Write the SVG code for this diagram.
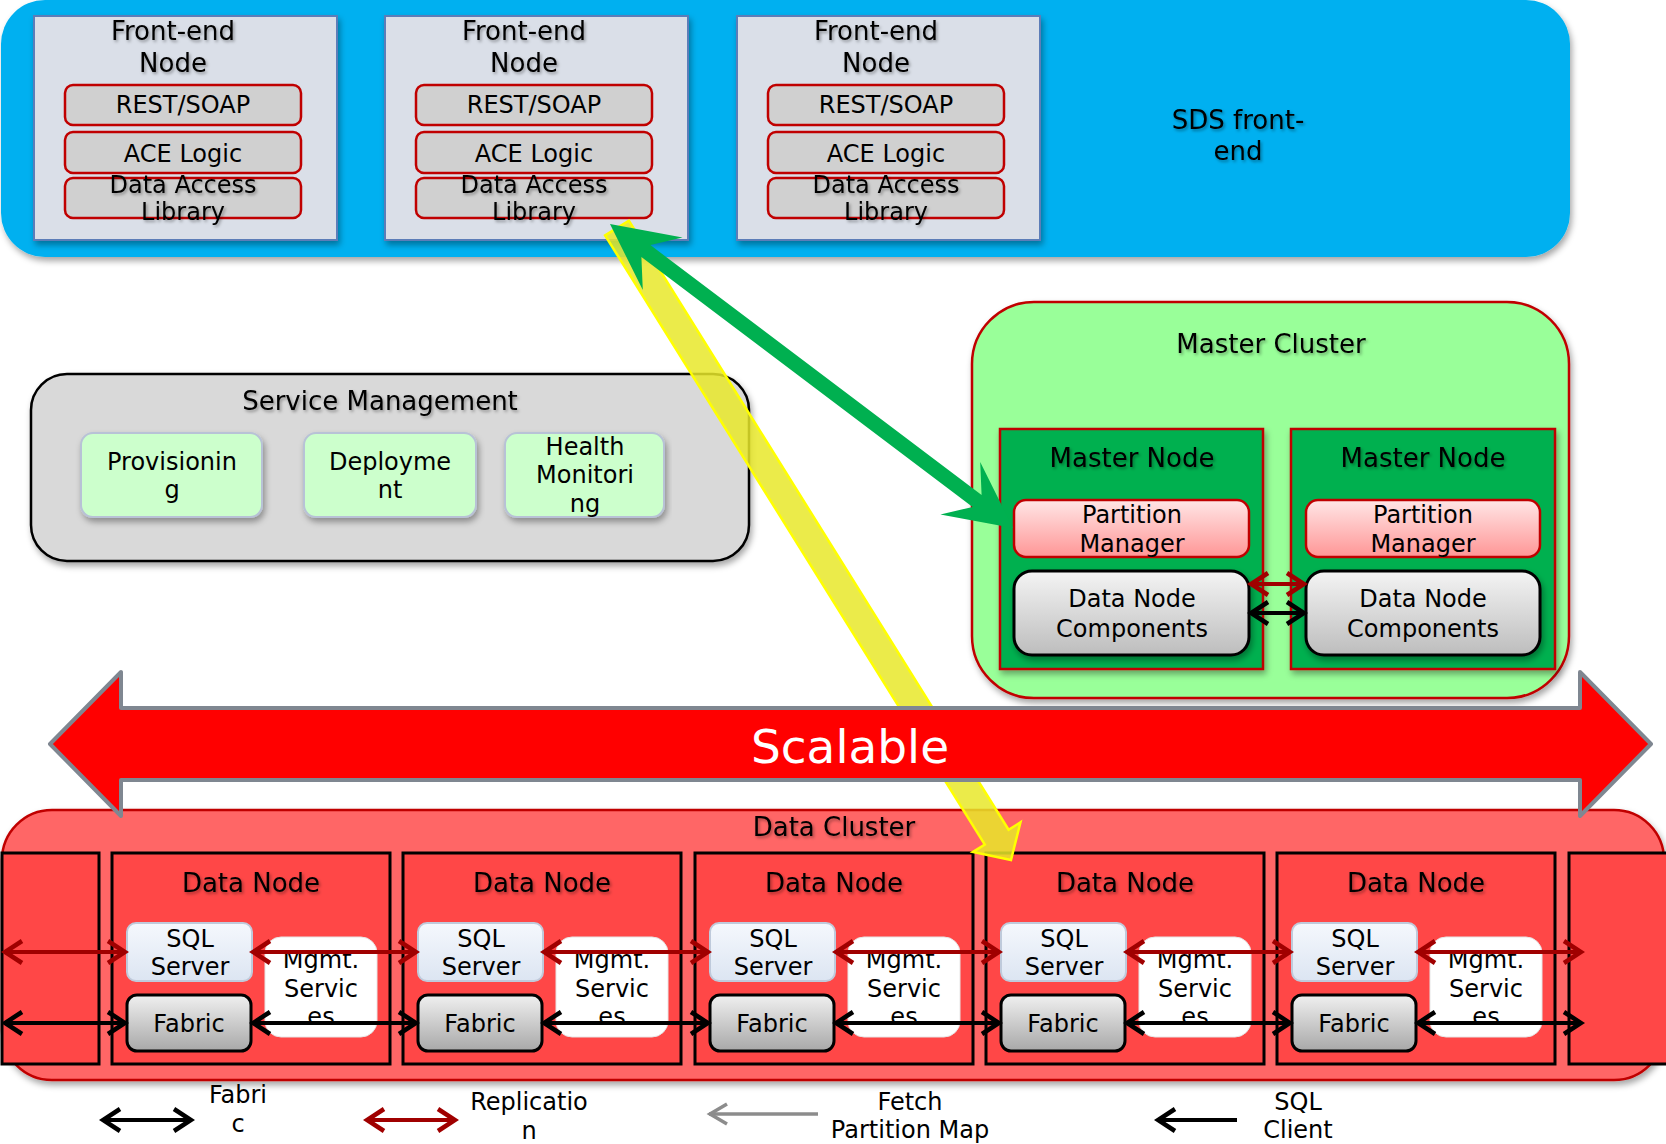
<svg xmlns="http://www.w3.org/2000/svg" width="1666" height="1144" viewBox="0 0 1666 1144">
<defs>
<filter id="bs" x="-5%" y="-5%" width="110%" height="120%"><feDropShadow dx="2" dy="4" stdDeviation="3" flood-color="#000" flood-opacity="0.35"/></filter>
<filter id="ts" x="-10%" y="-30%" width="120%" height="170%"><feDropShadow dx="1.5" dy="2" stdDeviation="1.6" flood-color="#000" flood-opacity="0.35"/></filter>
<linearGradient id="gPM" x1="0" y1="0" x2="0" y2="1"><stop offset="0" stop-color="#FFE6E6"/><stop offset="1" stop-color="#FF9696"/></linearGradient>
<linearGradient id="gDNC" x1="0" y1="0" x2="0" y2="1"><stop offset="0" stop-color="#F4F4F4"/><stop offset="1" stop-color="#BDBDBD"/></linearGradient>
<linearGradient id="gFab" x1="0" y1="0" x2="0" y2="1"><stop offset="0" stop-color="#F0F0F0"/><stop offset="1" stop-color="#A8A8A8"/></linearGradient>
<linearGradient id="gSQL" x1="0" y1="0" x2="0" y2="1"><stop offset="0" stop-color="#F5F8FD"/><stop offset="1" stop-color="#DCE5F2"/></linearGradient>
<marker id="mR" viewBox="0 0 24 28" refX="21" refY="14" markerWidth="24" markerHeight="28" markerUnits="userSpaceOnUse" orient="auto-start-reverse"><path d="M3,3 L20,14 L3,25" fill="none" stroke="#A00000" stroke-width="4.5"/></marker>
<marker id="mK" viewBox="0 0 24 28" refX="21" refY="14" markerWidth="24" markerHeight="28" markerUnits="userSpaceOnUse" orient="auto-start-reverse"><path d="M3,3 L20,14 L3,25" fill="none" stroke="#000" stroke-width="4.5"/></marker>
<marker id="mG" viewBox="0 0 24 28" refX="21" refY="14" markerWidth="24" markerHeight="28" markerUnits="userSpaceOnUse" orient="auto-start-reverse"><path d="M3,4 L20,14 L3,24" fill="none" stroke="#8C8C8C" stroke-width="3.5"/></marker>
</defs>
<style>
text{font-family:"DejaVu Sans",Verdana,sans-serif;fill:#000;text-anchor:middle}
.f26{font-size:26px}
.f24{font-size:24px}
.sh{filter:url(#ts)}
.fe{fill:#DADFE8;stroke:#5B7DB8;stroke-width:2}
.sub{fill:#D0D0D0;stroke:#C00000;stroke-width:2.5}
.svc{fill:#CCFFCC;stroke:#B8C2D6;stroke-width:2}
.mn{fill:#00B050;stroke:#C00000;stroke-width:2.5}
.pm{fill:url(#gPM);stroke:#C00000;stroke-width:2.5}
.dnc{fill:url(#gDNC);stroke:#000;stroke-width:3}
.dn{fill:#FF4747;stroke:#000;stroke-width:3}
.sql{fill:url(#gSQL);stroke:#BFCADB;stroke-width:2}
.fab{fill:url(#gFab);stroke:#000;stroke-width:3}
.mg{fill:#FFFFFF;stroke:#E6E6E6;stroke-width:1}
.lr{fill:none;stroke:#A00000;stroke-width:4;marker-start:url(#mR);marker-end:url(#mR)}
.lk{fill:none;stroke:#000;stroke-width:4;marker-start:url(#mK);marker-end:url(#mK)}
</style>

<g id="sds-frontend">
<rect x="1" y="0" width="1569" height="257" rx="44" fill="#00B0F0" filter="url(#bs)"/>
<text class="f26 sh" x="1238" y="129">SDS front-</text>
<text class="f26 sh" x="1238" y="160">end</text>
</g>

<g id="fe1" transform="translate(34,16)">
<rect class="fe" x="0" y="0" width="303" height="224" filter="url(#bs)"/>
<text class="f26 sh" x="139" y="24">Front-end</text>
<text class="f26 sh" x="139" y="56">Node</text>
<rect class="sub" x="31" y="69" width="236" height="40" rx="8"/>
<rect class="sub" x="31" y="116" width="236" height="41" rx="8"/>
<rect class="sub" x="31" y="162" width="236" height="40" rx="8"/>
<text class="f24" x="149" y="97">REST/SOAP</text>
<text class="f24" x="149" y="146">ACE Logic</text>
<text class="f24 sh" x="149" y="177">Data Access</text>
<text class="f24 sh" x="149" y="204">Library</text>
</g>
<g id="fe2" transform="translate(385,16)">
<rect class="fe" x="0" y="0" width="303" height="224" filter="url(#bs)"/>
<text class="f26 sh" x="139" y="24">Front-end</text>
<text class="f26 sh" x="139" y="56">Node</text>
<rect class="sub" x="31" y="69" width="236" height="40" rx="8"/>
<rect class="sub" x="31" y="116" width="236" height="41" rx="8"/>
<rect class="sub" x="31" y="162" width="236" height="40" rx="8"/>
<text class="f24" x="149" y="97">REST/SOAP</text>
<text class="f24" x="149" y="146">ACE Logic</text>
<text class="f24 sh" x="149" y="177">Data Access</text>
<text class="f24 sh" x="149" y="204">Library</text>
</g>
<g id="fe3" transform="translate(737,16)">
<rect class="fe" x="0" y="0" width="303" height="224" filter="url(#bs)"/>
<text class="f26 sh" x="139" y="24">Front-end</text>
<text class="f26 sh" x="139" y="56">Node</text>
<rect class="sub" x="31" y="69" width="236" height="40" rx="8"/>
<rect class="sub" x="31" y="116" width="236" height="41" rx="8"/>
<rect class="sub" x="31" y="162" width="236" height="40" rx="8"/>
<text class="f24" x="149" y="97">REST/SOAP</text>
<text class="f24" x="149" y="146">ACE Logic</text>
<text class="f24 sh" x="149" y="177">Data Access</text>
<text class="f24 sh" x="149" y="204">Library</text>
</g>

<g id="service-management">
<rect x="31" y="374" width="718" height="187" rx="36" fill="#D9D9D9" stroke="#000" stroke-width="2.5" filter="url(#bs)"/>
<text class="f26 sh" x="380" y="410">Service Management</text>
<g id="provisioning">
<rect class="svc" x="81" y="433" width="181" height="84" rx="12" filter="url(#bs)"/>
<text class="f24" x="172" y="470">Provisionin</text>
<text class="f24" x="172" y="498">g</text>
</g>
<g id="deployment">
<rect class="svc" x="304" y="433" width="172" height="84" rx="12" filter="url(#bs)"/>
<text class="f24" x="390" y="470">Deployme</text>
<text class="f24" x="390" y="498">nt</text>
</g>
<g id="health-monitoring">
<rect class="svc" x="505" y="433" width="159" height="84" rx="12" filter="url(#bs)"/>
<text class="f24" x="585" y="455">Health</text>
<text class="f24" x="585" y="483">Monitori</text>
<text class="f24" x="585" y="512">ng</text>
</g>
</g>

<g id="master-cluster">
<rect x="972" y="302" width="597" height="396" rx="62" fill="#99FF99" stroke="#C00000" stroke-width="2.5" filter="url(#bs)"/>
<text class="f26 sh" x="1271" y="353">Master Cluster</text>
<g id="master-node-1">
<rect class="mn" x="1000" y="429" width="263" height="240" filter="url(#bs)"/>
<text class="f26 sh" x="1132" y="467">Master Node</text>
<rect class="pm" x="1014" y="500" width="235" height="57" rx="12"/>
<text class="f24" x="1132" y="523">Partition</text>
<text class="f24" x="1132" y="552">Manager</text>
<rect class="dnc" x="1014" y="571" width="235" height="84" rx="18" filter="url(#bs)"/>
<text class="f24" x="1132" y="607">Data Node</text>
<text class="f24" x="1132" y="637">Components</text>
</g>
<g id="master-node-2">
<rect class="mn" x="1291" y="429" width="264" height="240" filter="url(#bs)"/>
<text class="f26 sh" x="1423" y="467">Master Node</text>
<rect class="pm" x="1306" y="500" width="234" height="57" rx="12"/>
<text class="f24" x="1423" y="523">Partition</text>
<text class="f24" x="1423" y="552">Manager</text>
<rect class="dnc" x="1306" y="571" width="234" height="84" rx="18" filter="url(#bs)"/>
<text class="f24" x="1423" y="607">Data Node</text>
<text class="f24" x="1423" y="637">Components</text>
</g>
</g>

<g id="data-cluster">
<rect x="2" y="810" width="1662" height="270" rx="50" fill="#FF6666" stroke="#C00000" stroke-width="2.5" filter="url(#bs)"/>
<text class="f26 sh" x="834" y="836">Data Cluster</text>
<rect id="dn-left-partial" class="dn" x="2" y="853" width="97" height="211"/>
<rect id="dn-right-partial" class="dn" x="1569" y="853" width="110" height="211"/>
</g>

<g id="dn1" transform="translate(112,853)">
<rect class="dn" x="0" y="0" width="278" height="211"/>
<text class="f26 sh" x="139" y="39">Data Node</text>
<rect class="sql" x="15" y="70" width="125" height="58" rx="9"/>
<text class="f24" x="78" y="94">SQL</text><text class="f24" x="78" y="122">Server</text>
<rect class="fab" x="15" y="142" width="124" height="56" rx="10"/>
<text class="f24" x="77" y="179">Fabric</text>
<rect class="mg" x="153" y="84" width="112" height="100" rx="16"/>
<text class="f24" x="209" y="115">Mgmt.</text><text class="f24" x="209" y="144">Servic</text><text class="f24" x="209" y="172">es</text>
</g>
<g id="dn2" transform="translate(403,853)">
<rect class="dn" x="0" y="0" width="278" height="211"/>
<text class="f26 sh" x="139" y="39">Data Node</text>
<rect class="sql" x="15" y="70" width="125" height="58" rx="9"/>
<text class="f24" x="78" y="94">SQL</text><text class="f24" x="78" y="122">Server</text>
<rect class="fab" x="15" y="142" width="124" height="56" rx="10"/>
<text class="f24" x="77" y="179">Fabric</text>
<rect class="mg" x="153" y="84" width="112" height="100" rx="16"/>
<text class="f24" x="209" y="115">Mgmt.</text><text class="f24" x="209" y="144">Servic</text><text class="f24" x="209" y="172">es</text>
</g>
<g id="dn3" transform="translate(695,853)">
<rect class="dn" x="0" y="0" width="278" height="211"/>
<text class="f26 sh" x="139" y="39">Data Node</text>
<rect class="sql" x="15" y="70" width="125" height="58" rx="9"/>
<text class="f24" x="78" y="94">SQL</text><text class="f24" x="78" y="122">Server</text>
<rect class="fab" x="15" y="142" width="124" height="56" rx="10"/>
<text class="f24" x="77" y="179">Fabric</text>
<rect class="mg" x="153" y="84" width="112" height="100" rx="16"/>
<text class="f24" x="209" y="115">Mgmt.</text><text class="f24" x="209" y="144">Servic</text><text class="f24" x="209" y="172">es</text>
</g>
<g id="dn4" transform="translate(986,853)">
<rect class="dn" x="0" y="0" width="278" height="211"/>
<text class="f26 sh" x="139" y="39">Data Node</text>
<rect class="sql" x="15" y="70" width="125" height="58" rx="9"/>
<text class="f24" x="78" y="94">SQL</text><text class="f24" x="78" y="122">Server</text>
<rect class="fab" x="15" y="142" width="124" height="56" rx="10"/>
<text class="f24" x="77" y="179">Fabric</text>
<rect class="mg" x="153" y="84" width="112" height="100" rx="16"/>
<text class="f24" x="209" y="115">Mgmt.</text><text class="f24" x="209" y="144">Servic</text><text class="f24" x="209" y="172">es</text>
</g>
<g id="dn5" transform="translate(1277,853)">
<rect class="dn" x="0" y="0" width="278" height="211"/>
<text class="f26 sh" x="139" y="39">Data Node</text>
<rect class="sql" x="15" y="70" width="125" height="58" rx="9"/>
<text class="f24" x="78" y="94">SQL</text><text class="f24" x="78" y="122">Server</text>
<rect class="fab" x="15" y="142" width="124" height="56" rx="10"/>
<text class="f24" x="77" y="179">Fabric</text>
<rect class="mg" x="153" y="84" width="112" height="100" rx="16"/>
<text class="f24" x="209" y="115">Mgmt.</text><text class="f24" x="209" y="144">Servic</text><text class="f24" x="209" y="172">es</text>
</g>

<g id="connectors">
<line class="lr" x1="4" y1="952" x2="126" y2="952"/>
<line class="lr" x1="252" y1="952" x2="417" y2="952"/>
<line class="lr" x1="543" y1="952" x2="709" y2="952"/>
<line class="lr" x1="835" y1="952" x2="1000" y2="952"/>
<line class="lr" x1="1126" y1="952" x2="1291" y2="952"/>
<line class="lr" x1="1417" y1="952" x2="1582" y2="952"/>
<line class="lk" x1="4" y1="1023" x2="126" y2="1023"/>
<line class="lk" x1="252" y1="1023" x2="417" y2="1023"/>
<line class="lk" x1="543" y1="1023" x2="709" y2="1023"/>
<line class="lk" x1="835" y1="1023" x2="1000" y2="1023"/>
<line class="lk" x1="1126" y1="1023" x2="1291" y2="1023"/>
<line class="lk" x1="1417" y1="1023" x2="1582" y2="1023"/>
<line class="lr" x1="1250" y1="584" x2="1305" y2="584"/>
<line class="lk" x1="1250" y1="613" x2="1305" y2="613"/>
<polygon id="yellow-arrow" points="605.1,235.4 628.9,220.6 1008.6,829.7 1020.5,822.3 1011,860 972.9,851.9 984.8,844.5" fill="#E8E82A" fill-opacity="0.85" stroke="#FFFF00" stroke-width="2.5" stroke-linejoin="miter"/>
<polygon id="green-arrow" points="610,224 682.6,237.4 650.4,245.1 981.6,494.9 980.2,462 1013,528 940.4,514.6 972.6,506.9 641.4,257.1 642.8,290" fill="#00B050"/>
</g>

<g id="scalable">
<polygon points="50,744 121,672 121,708 1580,708 1580,672 1651,744 1580,816 1580,780 121,780 121,816" fill="#FF0000" stroke="#7F8791" stroke-width="4" stroke-linejoin="round"/>
<text x="850" y="763" style="font-size:47px;fill:#FFFFFF">Scalable</text>
</g>

<g id="legend">
<line class="lk" x1="102" y1="1120" x2="192" y2="1120"/>
<text class="f24" x="238" y="1103">Fabri</text>
<text class="f24" x="238" y="1132">c</text>
<line class="lr" x1="366" y1="1120" x2="456" y2="1120"/>
<text class="f24" x="529" y="1110">Replicatio</text>
<text class="f24" x="529" y="1139">n</text>
<line x1="709" y1="1114" x2="818" y2="1114" stroke="#8C8C8C" stroke-width="3.5" marker-start="url(#mG)"/>
<text class="f24" x="910" y="1110">Fetch</text>
<text class="f24" x="910" y="1138">Partition Map</text>
<line x1="1157" y1="1120" x2="1237" y2="1120" stroke="#000" stroke-width="4" marker-start="url(#mK)"/>
<text class="f24" x="1298" y="1110">SQL</text>
<text class="f24" x="1298" y="1138">Client</text>
</g>
</svg>
